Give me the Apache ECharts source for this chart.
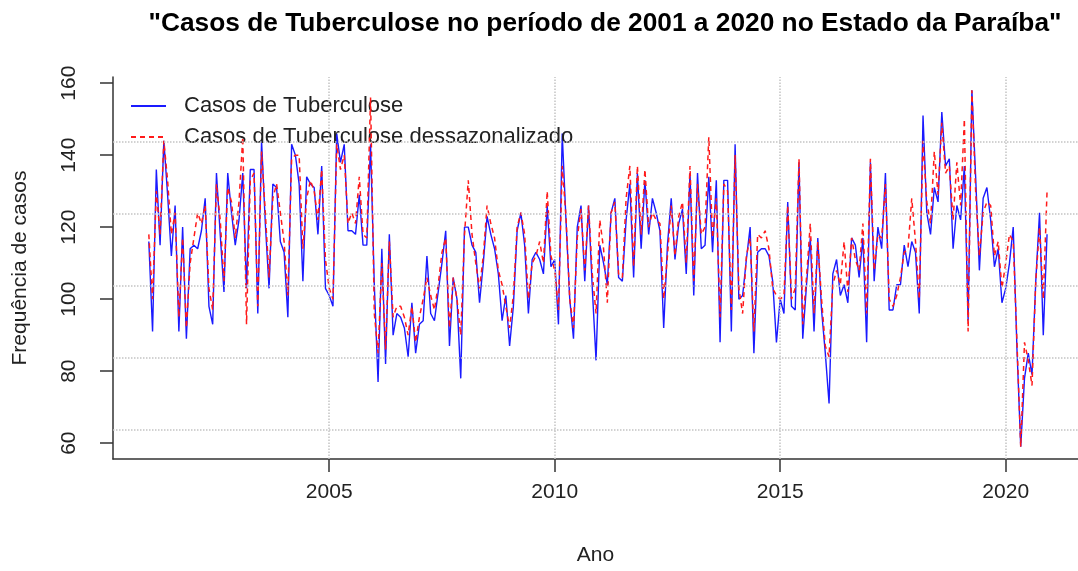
<!DOCTYPE html>
<html lang="pt-BR">
<head>
<meta charset="utf-8">
<title>Casos de Tuberculose na Paraíba, 2001–2020</title>
<script src="https://cdn.jsdelivr.net/npm/echarts@6/dist/echarts.min.js"></script>
<style>
  html, body { margin: 0; padding: 0; background: #ffffff; }
  #grafico { width: 1078px; height: 571px; }
</style>
</head>
<body>
<div id="grafico"></div>
<script>
// Série mensal: janeiro de 2001 a dezembro de 2020
const anoInicial = 2001;
const mesesPorAno = 12;

// Casos de tuberculose notificados por mês
const casos = [
  116, 91, 136, 115, 144, 129, 112, 126, 91, 120, 89, 114,
  115, 114, 119, 128, 98, 93, 135, 118, 102, 135, 124, 115,
  122, 135, 103, 136, 136, 96, 144, 121, 103, 132, 131, 116,
  113, 95, 143, 140, 132, 105, 134, 132, 131, 118, 137, 103,
  101, 98, 146, 138, 143, 119, 119, 118, 129, 115, 115, 143,
  104, 77, 114, 82, 118, 90, 96, 95, 92, 84, 99, 85,
  93, 94, 112, 96, 94, 102, 110, 119, 87, 106, 100, 78,
  120, 120, 115, 113, 99, 110, 123, 118, 114, 107, 94, 101,
  87, 98, 119, 124, 115, 96, 111, 113, 111, 107, 126, 109,
  111, 93, 146, 122, 100, 89, 120, 126, 105, 126, 103, 83,
  115, 110, 104, 124, 128, 106, 105, 122, 132, 106, 135, 114,
  133, 118, 128, 124, 119, 92, 115, 128, 111, 121, 125, 107,
  135, 101, 135, 114, 115, 134, 113, 133, 88, 133, 133, 91,
  143, 100, 101, 111, 120, 85, 113, 114, 114, 112, 105, 88,
  100, 96, 127, 98, 97, 138, 89, 104, 117, 91, 117, 97,
  85, 71, 107, 111, 101, 104, 99, 117, 115, 106, 117, 88,
  138, 105, 120, 114, 135, 97, 97, 104, 104, 115, 109, 116,
  113, 96, 151, 124, 118, 131, 127, 152, 137, 139, 114, 126,
  122, 137, 94, 158, 134, 108, 128, 131, 122, 109, 114, 99,
  103, 110, 120, 86, 59, 78, 85, 79, 105, 124, 90, 118
];

// Mesma série após a remoção da componente sazonal
const casosDessazonalizados = [
  118, 100, 130, 118, 144, 133, 118, 124, 95, 117, 92, 110,
  117, 124, 121, 126, 103, 97, 132, 122, 105, 131, 127, 117,
  127, 145, 93, 133, 135, 98, 141, 124, 106, 128, 132, 124,
  116, 101, 139, 140, 140, 114, 128, 133, 130, 122, 136, 111,
  103, 100, 143, 136, 140, 121, 124, 121, 134, 118, 117, 156,
  96, 85, 110, 86, 116, 95, 98, 98, 95, 90, 98, 88,
  95, 100, 106, 101, 97, 104, 113, 117, 92, 106, 100, 90,
  118, 133, 118, 110, 103, 112, 126, 121, 117, 108, 104, 98,
  92, 101, 120, 124, 118, 100, 110, 112, 116, 110, 130, 112,
  108, 97, 137, 123, 100, 92, 117, 125, 108, 126, 107, 96,
  122, 114, 99, 124, 127, 107, 106, 128, 137, 109, 137, 118,
  136, 120, 124, 122, 121, 100, 112, 126, 112, 123, 127, 110,
  137, 105, 132, 118, 120, 145, 117, 128, 95, 132, 130, 97,
  140, 103, 96, 112, 117, 91, 118, 117, 119, 114, 103, 101,
  100, 101, 126, 100, 103, 139, 93, 106, 121, 96, 116, 100,
  87, 84, 104, 108, 104, 116, 102, 117, 111, 108, 121, 96,
  139, 108, 118, 117, 132, 100, 98, 101, 106, 113, 114, 128,
  116, 100, 144, 127, 121, 141, 129, 149, 135, 137, 122, 138,
  126, 150, 91, 158, 130, 112, 124, 127, 126, 112, 116, 103,
  110, 118, 116, 88, 59, 88, 83, 76, 105, 120, 100, 130
];

// Rótulos dos eixos
const anosRotulados = [2005, 2010, 2015, 2020];
const frequenciasRotuladas = [60, 80, 100, 120, 140, 160];

// Linhas de referência pontilhadas
const gradeVertical = [2005, 2010, 2015, 2020];
const gradeHorizontal = [63.6, 83.6, 103.6, 123.6, 143.6];

const nomeSerieOriginal = 'Casos de Tuberculose';
const nomeSerieDessaz = 'Casos de Tuberculose dessazonalizado';

// Converte o índice do mês em tempo decimal (ano + fração)
function emTempo(valores) {
  return valores.map((v, i) => [anoInicial + i / mesesPorAno, v]);
}

const fonte = '"Liberation Sans", Arial, Helvetica, sans-serif';
const corEixo = '#333333';
const corGrade = '#c4c4c4';
const corAzul = '#1a1aff';
const corVermelho = '#ff1a1a';

const grafico = echarts.init(document.getElementById('grafico'), null, { renderer: 'canvas' });

grafico.setOption({
  animation: false,
  backgroundColor: '#ffffff',
  textStyle: { fontFamily: fonte, color: '#000000' },
  title: {
    text: '"Casos de Tuberculose no período de 2001 a 2020 no Estado da Paraíba"',
    left: 600,
    top: 6,
    textAlign: 'center',
    textStyle: { fontFamily: fonte, fontSize: 26.3, fontWeight: 'bold', color: '#000000' }
  },
  legend: {
    data: [nomeSerieOriginal, nomeSerieDessaz],
    orient: 'vertical',
    left: 125,
    top: 90,
    itemWidth: 35,
    itemHeight: 14,
    itemGap: 9,
    selectedMode: false,
    itemStyle: { opacity: 0 },
    textStyle: { fontFamily: fonte, fontSize: 22, color: '#222222', padding: [0, 0, 0, 13] }
  },
  grid: { left: 113, right: 0, top: 77, bottom: 109, containLabel: false },
  xAxis: {
    type: 'value',
    min: 2000.206,
    max: 2021.603,
    name: 'Ano',
    nameLocation: 'middle',
    nameGap: 86,
    nameTextStyle: { fontFamily: fonte, fontSize: 21, color: '#222222' },
    axisLine: { show: true, onZero: false, lineStyle: { color: corEixo, width: 1.5 } },
    axisTick: { show: true, inside: false, length: 13, customValues: anosRotulados, lineStyle: { color: corEixo, width: 1.5 } },
    axisLabel: {
      customValues: anosRotulados,
      margin: 23,
      fontFamily: fonte,
      fontSize: 21,
      color: '#222222',
      formatter: (v) => String(Math.round(v))
    },
    splitLine: { show: false }
  },
  yAxis: {
    type: 'value',
    min: 55.6,
    max: 161.7,
    name: 'Frequência de casos',
    nameLocation: 'middle',
    nameGap: 82,
    nameRotate: 90,
    nameTextStyle: { fontFamily: fonte, fontSize: 21, color: '#222222' },
    axisLine: { show: true, onZero: false, lineStyle: { color: corEixo, width: 1.5 } },
    axisTick: { show: true, inside: false, length: 13, customValues: frequenciasRotuladas, lineStyle: { color: corEixo, width: 1.5 } },
    axisLabel: {
      customValues: frequenciasRotuladas,
      rotate: 90,
      margin: 33,
      fontFamily: fonte,
      fontSize: 21,
      color: '#222222',
      formatter: (v) => String(Math.round(v))
    },
    splitLine: { show: false }
  },
  series: [
    {
      // grade pontilhada de referência, desenhada por baixo das curvas
      name: 'grade',
      type: 'line',
      data: [],
      z: 1,
      silent: true,
      markLine: {
        silent: true,
        symbol: ['none', 'none'],
        label: { show: false },
        lineStyle: { color: corGrade, type: 'dotted', width: 1.5 },
        emphasis: { disabled: true },
        data: gradeVertical.map((a) => ({ xAxis: a }))
          .concat(gradeHorizontal.map((f) => ({ yAxis: f })))
      }
    },
    {
      name: nomeSerieOriginal,
      type: 'line',
      data: emTempo(casos),
      showSymbol: false,
      symbol: 'none',
      z: 3,
      lineStyle: { color: corAzul, width: 1.4 },
      itemStyle: { color: corAzul },
      emphasis: { disabled: true }
    },
    {
      name: nomeSerieDessaz,
      type: 'line',
      data: emTempo(casosDessazonalizados),
      showSymbol: false,
      symbol: 'none',
      z: 4,
      lineStyle: { color: corVermelho, width: 1.5, type: [5, 4] },
      itemStyle: { color: corVermelho },
      emphasis: { disabled: true }
    }
  ]
});
</script>
</body>
</html>
